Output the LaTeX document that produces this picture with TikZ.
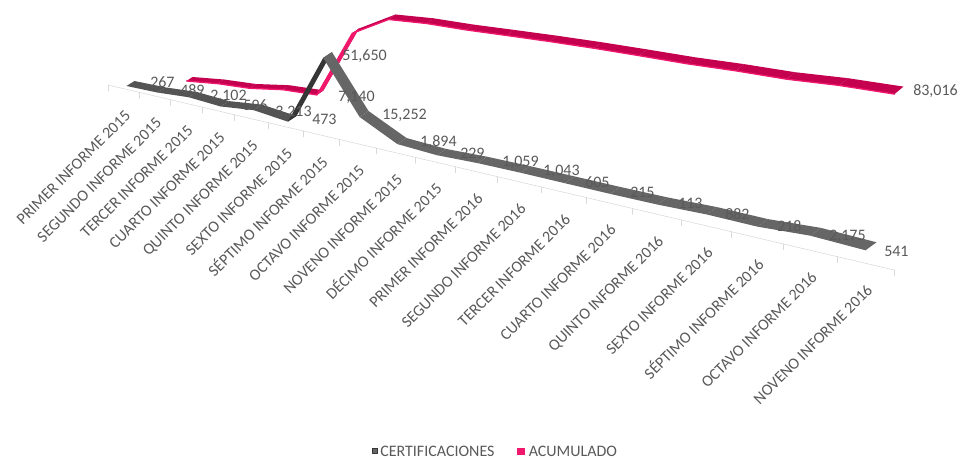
\documentclass[tikz,border=0pt]{standalone}
\usepackage{fontspec}
\setmainfont{Carlito}
\usetikzlibrary{calc}
\definecolor{txt}{HTML}{595959}
\definecolor{axisgray}{HTML}{D9D9D9}
\definecolor{certif}{HTML}{545454}
\definecolor{certifdark}{HTML}{363636}
\definecolor{certiflight}{HTML}{666666}
\definecolor{acum}{HTML}{C4004F}
\definecolor{acumlight}{HTML}{F0186C}
\begin{document}
\begin{tikzpicture}[x=0.75pt, y=-0.75pt, line join=round, line cap=round,
	lbl/.style={font=\fontsize{12}{14}\selectfont, text=txt, inner sep=0pt},
	cat/.style={lbl, rotate=45, anchor=base east}]
	\useasboundingbox (0,0) rectangle (961,459);
	% eje de categorias
	\foreach \t [count=\k] in {108,139,170,202,234,268,303,339,376,415,455,497,541,586,632,681,731,783,837,894}
	\coordinate (t\k) at (\t, {85+0.2354*(\t-108)});
	\draw[axisgray] (t1) -- (t20);
	\foreach \k in {1,...,20}
	\draw[axisgray] (t\k) -- ++(0,6);
	\foreach \name [count=\k] in {PRIMER INFORME 2015, SEGUNDO INFORME 2015, TERCER INFORME 2015,
		CUARTO INFORME 2015, QUINTO INFORME 2015, SEXTO INFORME 2015, SÉPTIMO INFORME 2015,
		OCTAVO INFORME 2015, NOVENO INFORME 2015, DÉCIMO INFORME 2015, PRIMER INFORME 2016,
		SEGUNDO INFORME 2016, TERCER INFORME 2016, CUARTO INFORME 2016, QUINTO INFORME 2016,
		SEXTO INFORME 2016, SÉPTIMO INFORME 2016, OCTAVO INFORME 2016, NOVENO INFORME 2016}{
		\pgfmathtruncatemacro\j{\k+1}
		\node[cat] (c\k) at ($(t\k)!0.5!(t\j)+(8,28)$) {\name};
	}
	% ACUMULADO (serie de atras)
	\foreach \n/\x/\y in {2/192.5/77.0, 3/224/79.5, 4/256/84.0, 5/289/85.2, 6/323.5/90.3,
		7/359/28.5, 8/395.5/14.5, 9/433.5/18.3, 10/473/24.5, 11/514/29.9, 12/557/35.7,
		13/601.5/42.2, 14/647/49.4, 15/694.5/57.2, 16/744/64.1, 17/795/72.2, 18/848/78.2, 19/903.5/86.6}{
		\pgfmathsetmacro\f{(\x-193)/711}
		\coordinate (p\n) at (\x,\y);
		\coordinate (pf\n) at (\x-6-3*\f,\y+4+3.5*\f);
	}
	\foreach \a [count=\b from 3] in {2,...,18}
	\fill[acum] (p\a) -- (p\b) -- (pf\b) -- (pf\a) -- cycle;
	\draw[acumlight, line width=1pt] (pf2) \foreach \i in {3,...,19}{ -- (pf\i)};
	\fill[acumlight] (p6) -- (p7) -- (pf7) -- (pf6) -- cycle;
	% CERTIFICACIONES (serie de delante)
	\foreach \n/\x/\y in {1/134.5/81.0, 2/165.5/87.4, 3/197/92.0, 4/229/101.1, 5/262/104.6,
		6/296.5/116.0, 7/332/52.1, 8/368.5/111.0, 9/406.5/138.0, 10/446/148.9, 11/487/156.7,
		12/530/166.1, 13/574.5/176.4, 14/620/186.9, 15/667.5/197.4, 16/717/207.1, 17/768/219.1,
		18/821/227.9, 19/876.5/242.3}{
		\pgfmathsetmacro\f{(\x-133)/744}
		\coordinate (g\n) at (\x,\y);
		\coordinate (gf\n) at (\x-8-3*\f,\y+5+3*\f);
	}
	\foreach \a [count=\b from 2] in {1,...,5}
	\fill[certif] (g\a) -- (g\b) -- (gf\b) -- (gf\a) -- cycle;
	\fill[certifdark] (g6) -- (g7) -- (gf7) -- (gf6) -- cycle;
	\foreach \a [count=\b from 8] in {7,...,18}
	\fill[certiflight] (g\a) -- (g\b) -- (gf\b) -- (gf\a) -- cycle;
	% etiquetas de datos
	\foreach \v/\x/\y [count=\k] in {267/150/82, 489/180/90, {2,102}/210/96, 596/243/105,
		{3,213}/275/112, 473/312/119, {51,650}/342/56, {15,252}/382/115, {1,894}/420/142,
		229/460/153, {1,059}/502/162, {1,043}/543/171, 605/585/182, 215/630/192, 113/678/203,
		882/725/214, 218/777/226, {2,175}/829/236, 541/884/251}
	\node[lbl, anchor=west] (vg\k) at (\x,\y) {\v};
	\node[lbl, anchor=west] (vp6) at (338,97) {7,140};
	\node[lbl, anchor=west] (vp19) at (913,91) {83,016};
	% leyenda
	\filldraw[fill=certiflight, draw=certifdark] (372.5,448.5) rectangle (377.5,453.5);
	\node[lbl, anchor=west] (leg1) at (380,451.5) {CERTIFICACIONES};
	\fill[acumlight] (517,448) rectangle (525,455);
	\node[lbl, anchor=west] (leg2) at (528.5,451.5) {ACUMULADO};
\end{tikzpicture}
\end{document}
